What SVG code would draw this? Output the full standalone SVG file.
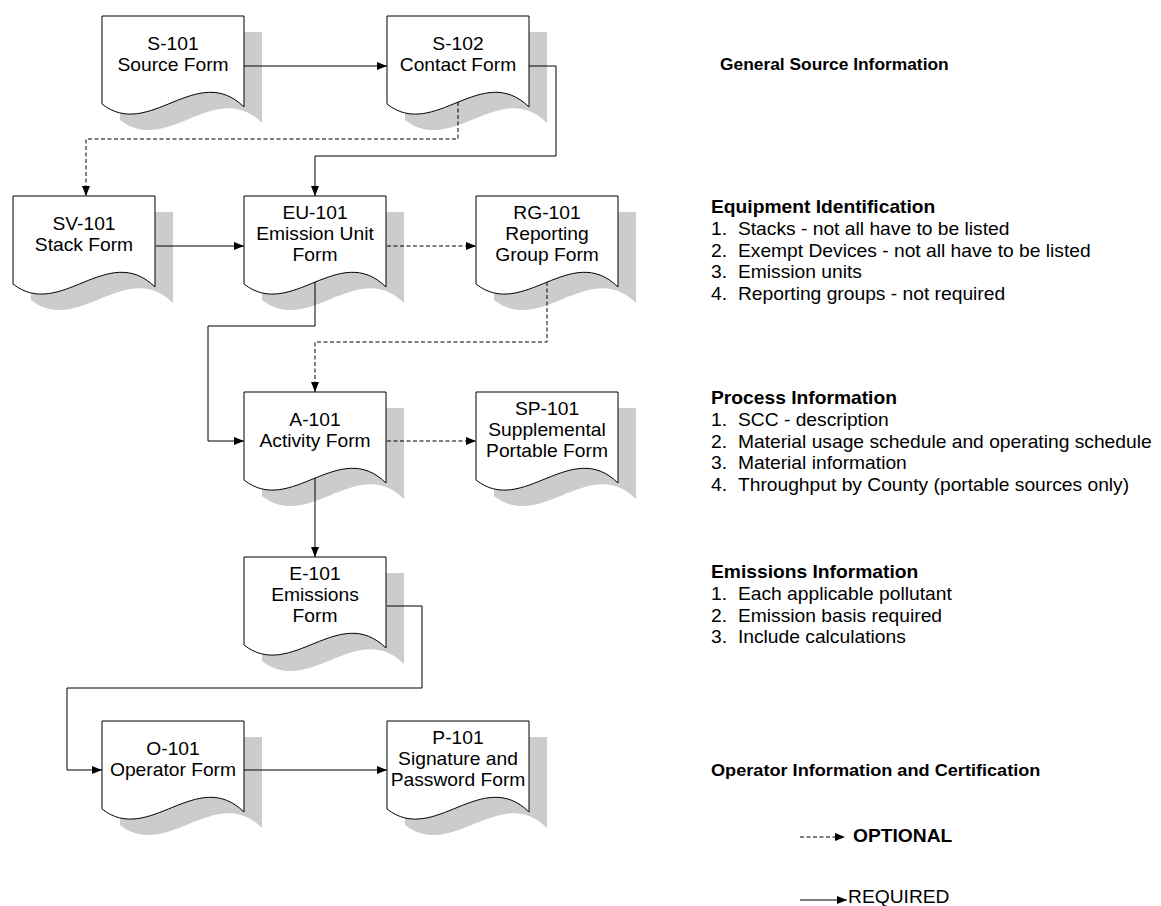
<svg xmlns="http://www.w3.org/2000/svg" xmlns:xlink="http://www.w3.org/1999/xlink" width="1161" height="906" viewBox="0 0 1161 906">
<style>
.doc{fill:#fff;stroke:#000;stroke-width:1}
.sh{fill:#cccccc;stroke:none}
.lbl{font-family:"Liberation Sans",Arial,sans-serif;font-size:17.5px;fill:#000;text-anchor:middle}
.txt{font-family:"Liberation Sans",Arial,sans-serif;font-size:17.5px;fill:#000}
.b{font-weight:bold}
.req{fill:none;stroke:#000;stroke-width:1;marker-end:url(#arr)}
.opt{fill:none;stroke:#000;stroke-width:1;stroke-dasharray:4,2.5;marker-end:url(#arr)}
</style>
<defs>
<path id="doc" d="M0,0 H142 V91 C95,45 47,125 0,88 Z"/>
<marker id="arr" viewBox="0 0 10 8" refX="10" refY="4" markerWidth="10" markerHeight="8" markerUnits="userSpaceOnUse" orient="auto"><path d="M0,0 L10,4 L0,8 Z" fill="#000"/></marker>
</defs>
<rect width="1161" height="906" fill="#fff"/>

<g id="S-101">
<use xlink:href="#doc" href="#doc" x="120" y="32" class="sh"/>
<use xlink:href="#doc" href="#doc" x="102" y="16" class="doc"/>
<g transform="translate(173,16) scale(1.1,1)" class="lbl"><text x="0" y="34">S-101</text><text x="0" y="55">Source Form</text></g>
</g>
<g id="S-102">
<use xlink:href="#doc" href="#doc" x="405" y="32" class="sh"/>
<use xlink:href="#doc" href="#doc" x="387" y="16" class="doc"/>
<g transform="translate(458,16) scale(1.1,1)" class="lbl"><text x="0" y="34">S-102</text><text x="0" y="55">Contact Form</text></g>
</g>
<g id="SV-101">
<use xlink:href="#doc" href="#doc" x="31" y="212" class="sh"/>
<use xlink:href="#doc" href="#doc" x="13" y="196" class="doc"/>
<g transform="translate(84,196) scale(1.1,1)" class="lbl"><text x="0" y="34">SV-101</text><text x="0" y="55">Stack Form</text></g>
</g>
<g id="EU-101">
<use xlink:href="#doc" href="#doc" x="262" y="212" class="sh"/>
<use xlink:href="#doc" href="#doc" x="244" y="196" class="doc"/>
<g transform="translate(315,196) scale(1.1,1)" class="lbl"><text x="0" y="23">EU-101</text><text x="0" y="44">Emission Unit</text><text x="0" y="65">Form</text></g>
</g>
<g id="RG-101">
<use xlink:href="#doc" href="#doc" x="494" y="212" class="sh"/>
<use xlink:href="#doc" href="#doc" x="476" y="196" class="doc"/>
<g transform="translate(547,196) scale(1.1,1)" class="lbl"><text x="0" y="23">RG-101</text><text x="0" y="44">Reporting</text><text x="0" y="65">Group Form</text></g>
</g>
<g id="A-101">
<use xlink:href="#doc" href="#doc" x="262" y="408" class="sh"/>
<use xlink:href="#doc" href="#doc" x="244" y="392" class="doc"/>
<g transform="translate(315,392) scale(1.1,1)" class="lbl"><text x="0" y="34">A-101</text><text x="0" y="55">Activity Form</text></g>
</g>
<g id="SP-101">
<use xlink:href="#doc" href="#doc" x="494" y="408" class="sh"/>
<use xlink:href="#doc" href="#doc" x="476" y="392" class="doc"/>
<g transform="translate(547,392) scale(1.1,1)" class="lbl"><text x="0" y="23">SP-101</text><text x="0" y="44">Supplemental</text><text x="0" y="65">Portable Form</text></g>
</g>
<g id="E-101">
<use xlink:href="#doc" href="#doc" x="262" y="573" class="sh"/>
<use xlink:href="#doc" href="#doc" x="244" y="557" class="doc"/>
<g transform="translate(315,557) scale(1.1,1)" class="lbl"><text x="0" y="23">E-101</text><text x="0" y="44">Emissions</text><text x="0" y="65">Form</text></g>
</g>
<g id="O-101">
<use xlink:href="#doc" href="#doc" x="120" y="737" class="sh"/>
<use xlink:href="#doc" href="#doc" x="102" y="721" class="doc"/>
<g transform="translate(173,721) scale(1.1,1)" class="lbl"><text x="0" y="34">O-101</text><text x="0" y="55">Operator Form</text></g>
</g>
<g id="P-101">
<use xlink:href="#doc" href="#doc" x="405" y="737" class="sh"/>
<use xlink:href="#doc" href="#doc" x="387" y="721" class="doc"/>
<g transform="translate(458,721) scale(1.1,1)" class="lbl"><text x="0" y="23">P-101</text><text x="0" y="44">Signature and</text><text x="0" y="65">Password Form</text></g>
</g>

<g id="connectors">
<path class="req" d="M244,66 H387"/>
<path class="req" d="M529,66 H556 V156 H315 V196"/>
<path class="opt" d="M458,102 V139 H86 V196"/>
<path class="req" d="M156,246 H244"/>
<path class="opt" d="M387,246 H476"/>
<path class="req" d="M315,282 V326 H208 V441 H244"/>
<path class="opt" d="M547,282 V342 H315 V392"/>
<path class="opt" d="M387,441 H476"/>
<path class="req" d="M315,478 V557"/>
<path class="req" d="M387,606 H422 V688 H67 V770 H102"/>
<path class="req" d="M244,770 H387"/>
<path class="opt" d="M800,837 H845"/>
<path class="req" d="M800,900 H847"/>
</g>

<g id="notes" class="txt">
<g transform="translate(720,70) scale(1.1,1)"><text class="b" x="0" y="0" style="font-size:15.8px">General Source Information</text></g>
<g transform="translate(711,213) scale(1.1,1)">
<text class="b" x="0" y="0">Equipment Identification</text>
<text x="0" y="22">1.</text><text x="24.5" y="22">Stacks - not all have to be listed</text>
<text x="0" y="44">2.</text><text x="24.5" y="44">Exempt Devices - not all have to be listed</text>
<text x="0" y="65.5">3.</text><text x="24.5" y="65.5">Emission units</text>
<text x="0" y="87">4.</text><text x="24.5" y="87">Reporting groups - not required</text>
</g>
<g transform="translate(711,404) scale(1.1,1)">
<text class="b" x="0" y="0">Process Information</text>
<text x="0" y="22">1.</text><text x="24.5" y="22">SCC - description</text>
<text x="0" y="44">2.</text><text x="24.5" y="44">Material usage schedule and operating schedule</text>
<text x="0" y="65.5">3.</text><text x="24.5" y="65.5">Material information</text>
<text x="0" y="87">4.</text><text x="24.5" y="87">Throughput by County (portable sources only)</text>
</g>
<g transform="translate(711,578) scale(1.1,1)">
<text class="b" x="0" y="0">Emissions Information</text>
<text x="0" y="22">1.</text><text x="24.5" y="22">Each applicable pollutant</text>
<text x="0" y="44">2.</text><text x="24.5" y="44">Emission basis required</text>
<text x="0" y="65.5">3.</text><text x="24.5" y="65.5">Include calculations</text>
</g>
<g transform="translate(711,776) scale(1.1,1)"><text class="b" x="0" y="0" style="font-size:16.5px">Operator Information and Certification</text></g>
<g transform="translate(853,842) scale(1.1,1)"><text class="b" x="0" y="0">OPTIONAL</text></g>
<g transform="translate(848,903) scale(1.1,1)"><text x="0" y="0">REQUIRED</text></g>
</g>
</svg>
